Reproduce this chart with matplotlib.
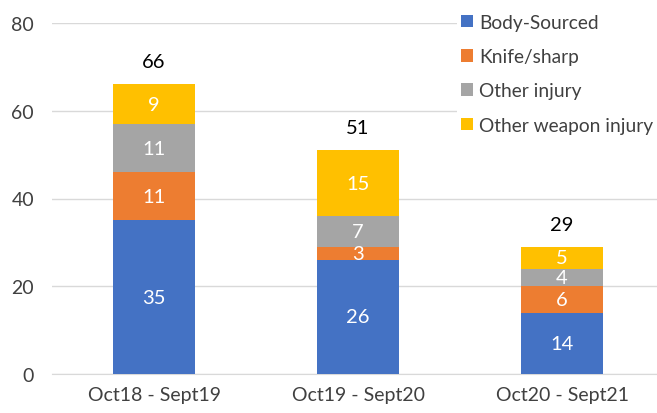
import matplotlib.pyplot as plt
import numpy as np

# chart data
periods = ["Oct18 - Sept19", "Oct19 - Sept20", "Oct20 - Sept21"]
body_sourced = [35, 26, 14]
knife_sharp = [11, 3, 6]
other_injury = [11, 7, 4]
other_weapon = [9, 15, 5]

series_names = ["Body-Sourced", "Knife/sharp", "Other injury", "Other weapon injury"]
series_colors = ["#4472C4", "#ED7D31", "#A5A5A5", "#FFC000"]

plt.rcParams['font.family'] = ['Lato', 'DejaVu Sans']

fig = plt.figure(figsize=(6.57, 4.14), dpi=100)
ax = fig.add_axes([52 / 657, 39 / 414, 612 / 657, 351 / 414])

x = np.arange(len(periods))
bottom = np.zeros(len(periods))
all_series = [body_sourced, knife_sharp, other_injury, other_weapon]
for vals, name, col in zip(all_series, series_names, series_colors):
    vals = np.array(vals)
    ax.bar(x, vals, width=0.4, bottom=bottom, color=col, label=name, zorder=3)
    for xi, b, v in zip(x, bottom, vals):
        ax.text(xi, b + v / 2, str(v), ha="center", va="center",
                color="white", fontsize=14.5, zorder=4)
    bottom = bottom + vals

# totals on top
for xi, tot in zip(x, bottom):
    ax.text(xi, tot + 3.2, str(int(tot)), ha="center", va="bottom",
            color="black", fontsize=14.5)

ax.set_xlim(-0.5, 2.5)
ax.set_ylim(0, 80)
ax.set_yticks([0, 20, 40, 60, 80])
ax.set_xticks(x)
ax.set_xticklabels(periods)
ax.tick_params(axis="both", length=0, labelsize=14, colors="#404040")
ax.tick_params(axis="y", pad=13)
ax.tick_params(axis="x", pad=9)
ax.yaxis.grid(True, color="#D9D9D9", linewidth=1, zorder=0)
for s in ["top", "right", "left"]:
    ax.spines[s].set_visible(False)
ax.spines["bottom"].set_color("#D9D9D9")

leg = ax.legend(loc="upper left", bbox_to_anchor=(457 / 657, 1 - 11 / 414),
                bbox_transform=fig.transFigure, frameon=True,
                fontsize=13.8, handlelength=0.62, handleheight=0.62,
                handletextpad=0.32, labelspacing=0.9, borderpad=0.2,
                borderaxespad=0)
leg.get_frame().set_facecolor("white")
leg.get_frame().set_edgecolor("none")
leg.get_frame().set_alpha(1)
for t in leg.get_texts():
    t.set_color("#404040")

fig.savefig("out.png", dpi=100)
